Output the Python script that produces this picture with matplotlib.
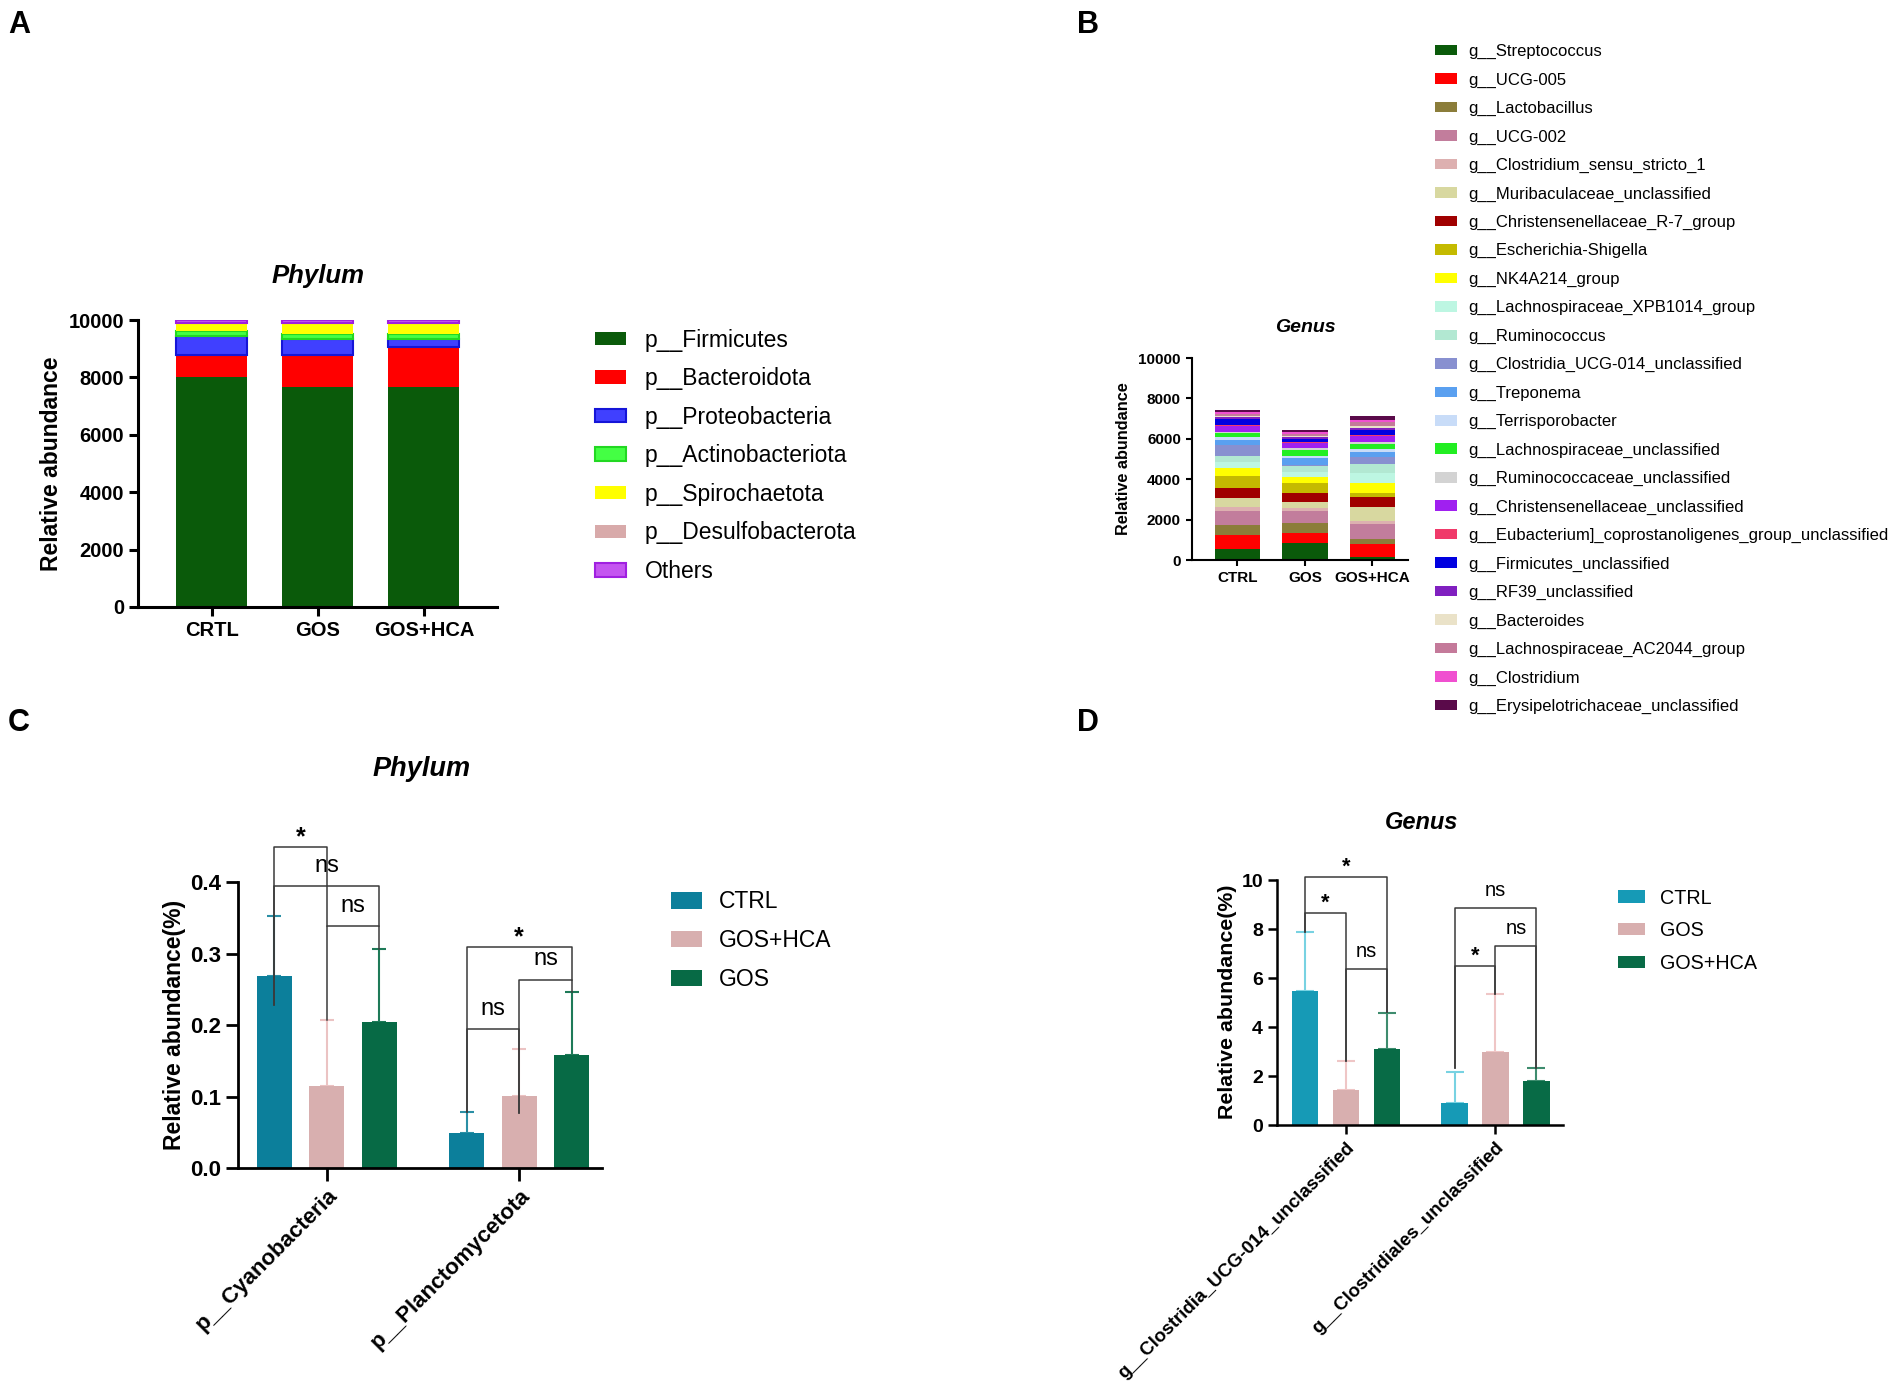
import numpy as np
import matplotlib
matplotlib.use('Agg')
import matplotlib.pyplot as plt

plt.rcParams['font.family'] = ['Liberation Sans', 'DejaVu Sans']

# ── Data: panel A (phylum, stacked) ──────────────────────────────────────────
groups_a = ['CRTL', 'GOS', 'GOS+HCA']
phyla = ['p__Firmicutes', 'p__Bacteroidota', 'p__Proteobacteria', 'p__Actinobacteriota',
         'p__Spirochaetota', 'p__Desulfobacterota', 'Others']
phylum_crtl = [8020, 750, 670, 175, 245, 30, 110]
phylum_gos = [7670, 1120, 535, 185, 350, 30, 110]
phylum_hca = [7670, 1375, 280, 185, 350, 30, 110]
phylum_colors = ['#0A5A0A', '#FF0000', '#4040FF', '#44FF44', '#FFFF00', '#D8AAAA', '#C455F0']
phylum_edges = ['none', 'none', '#1515D8', '#22D822', 'none', 'none', '#A020E0']

# ── Data: panel B (genus, stacked) ───────────────────────────────────────────
groups_b = ['CTRL', 'GOS', 'GOS+HCA']
genera = ['g__Streptococcus', 'g__UCG-005', 'g__Lactobacillus', 'g__UCG-002',
          'g__Clostridium_sensu_stricto_1', 'g__Muribaculaceae_unclassified',
          'g__Christensenellaceae_R-7_group', 'g__Escherichia-Shigella', 'g__NK4A214_group',
          'g__Lachnospiraceae_XPB1014_group', 'g__Ruminococcus', 'g__Clostridia_UCG-014_unclassified',
          'g__Treponema', 'g__Terrisporobacter', 'g__Lachnospiraceae_unclassified',
          'g__Ruminococcaceae_unclassified', 'g__Christensenellaceae_unclassified',
          'g__Eubacterium]_coprostanoligenes_group_unclassified', 'g__Firmicutes_unclassified',
          'g__RF39_unclassified', 'g__Bacteroides', 'g__Lachnospiraceae_AC2044_group',
          'g__Clostridium', 'g__Erysipelotrichaceae_unclassified']
genus_ctrl = [530, 710, 495, 710, 200, 400, 510, 610, 400, 310, 250, 545,
              280, 115, 200, 80, 265, 80, 280, 100, 65, 100, 80, 115]
genus_gos = [825, 530, 460, 595, 150, 315, 430, 495, 300, 280, 280, 65,
             310, 130, 280, 80, 250, 65, 130, 100, 50, 100, 115, 80]
genus_hca = [130, 660, 265, 725, 165, 660, 495, 230, 460, 495, 460, 330,
             280, 130, 265, 100, 280, 80, 250, 80, 80, 200, 130, 180]
genus_colors = ['#0A5A0A', '#FF0000', '#8B7D3A', '#C27D9C', '#DDB0B0', '#D8D8A0',
                '#A00000', '#C4BA00', '#FFFF00', '#BDF6E2', '#B2E8D2', '#8890D0',
                '#5AA0F0', '#C8DCF8', '#22EE22', '#D3D3D3', '#A020F0', '#F03A6A',
                '#0000E0', '#8020C0', '#EAE2C8', '#C47A9A', '#F050D0', '#5A0A4A']

# ── Data: panel C (phylum, mean + SD) ────────────────────────────────────────
taxa_c = ['p__Cyanobacteria', 'p__Planctomycetota']
series_c = ['CTRL', 'GOS+HCA', 'GOS']
c_ctrl = [0.268, 0.049]
c_ctrl_sd = [0.085, 0.029]
c_hca = [0.115, 0.101]
c_hca_sd = [0.092, 0.065]
c_gos = [0.205, 0.158]
c_gos_sd = [0.102, 0.088]
colors_c = ['#0C7F9B', '#D8AFAF', '#076A45']
ecolors_c = ['#2A8FA5', '#EBC3C3', '#1E7A58']
# (group, bar i, bar j, line y, label, leg bottom i, leg bottom j)
brackets_c = [(0, 0, 1, 0.449, '*', 0.228, 0.338),
              (0, 0, 2, 0.394, 'ns', 0.228, 0.338),
              (0, 1, 2, 0.338, 'ns', 0.207, 0.307),
              (1, 0, 2, 0.309, '*', 0.078, 0.263),
              (1, 1, 2, 0.263, 'ns', 0.077, 0.246),
              (1, 0, 1, 0.194, 'ns', 0.078, 0.077)]

# ── Data: panel D (genus, mean + SD) ─────────────────────────────────────────
taxa_d = ['g__Clostridia_UCG-014_unclassified', 'g__Clostridiales_unclassified']
series_d = ['CTRL', 'GOS', 'GOS+HCA']
d_ctrl = [5.47, 0.88]
d_ctrl_sd = [2.42, 1.27]
d_gos = [1.43, 2.98]
d_gos_sd = [1.20, 2.39]
d_hca = [3.12, 1.81]
d_hca_sd = [1.47, 0.54]
colors_d = ['#169AB6', '#D8AFAF', '#086B46']
ecolors_d = ['#78D2E2', '#EFC6C6', '#3E8C6E']
brackets_d = [(0, 0, 2, 10.14, '*', 7.9, 4.6),
              (0, 0, 1, 8.67, '*', 7.9, 2.6),
              (0, 1, 2, 6.39, 'ns', 2.6, 4.6),
              (1, 0, 2, 8.87, 'ns', 2.35, 2.35),
              (1, 0, 1, 6.49, '*', 2.35, 5.37),
              (1, 1, 2, 7.31, 'ns', 5.37, 2.35)]

# ── Figure / helpers ─────────────────────────────────────────────────────────
W, H = 1902, 1391
fig = plt.figure(figsize=(W / 100, H / 100), dpi=100)


def add_ax(x0, y0, x1, y1):
    return fig.add_axes([x0 / W, 1 - y1 / H, (x1 - x0) / W, (y1 - y0) / H])


def prism(ax, lw, ticklen, size, xsize=None):
    for s in ['top', 'right']:
        ax.spines[s].set_visible(False)
    for s in ['left', 'bottom']:
        ax.spines[s].set_linewidth(lw)
    ax.tick_params(width=lw, length=ticklen, labelsize=size)
    ax.tick_params(axis='x', labelsize=xsize or size)
    for lab in ax.get_xticklabels() + ax.get_yticklabels():
        lab.set_fontweight('bold')


def px_text(x, y, s, **kw):
    fig.text(x / W, 1 - y / H, s, **kw)


def bracket(ax, xa, xb, y, ya, yb, label, size, dy_star, dy_ns):
    ax.plot([xa, xa, xb, xb], [ya, y, y, yb], color='#3A3A3A', lw=1.1,
            zorder=4, clip_on=False)
    star = label == '*'
    ax.annotate(label, xy=((xa + xb) / 2, y), xytext=(0, dy_star if star else dy_ns),
                textcoords='offset points', ha='center', va='center',
                fontsize=size + 1 if star else size,
                fontweight='bold' if star else 'normal', annotation_clip=False)


# ── Panel A ──────────────────────────────────────────────────────────────────
ax_a = add_ax(138, 320, 497, 607)
vals_a = np.array([phylum_crtl, phylum_gos, phylum_hca], dtype=float)
xa = np.arange(len(groups_a))
bottom = np.zeros(len(groups_a))
bars_a = []
for i, name in enumerate(phyla):
    b = ax_a.bar(xa, vals_a[:, i], bottom=bottom, width=0.67, color=phylum_colors[i],
                 edgecolor=phylum_edges[i], linewidth=1.5 if phylum_edges[i] != 'none' else 0,
                 label=name)
    bars_a.append(b)
    bottom += vals_a[:, i]
ax_a.set_xlim(-0.698, 2.689)
ax_a.set_ylim(0, 10000)
ax_a.set_yticks(range(0, 10001, 2000))
ax_a.set_xticks(xa)
ax_a.set_xticklabels(groups_a)
prism(ax_a, 2.2, 6.5, 14.5)
ax_a.set_ylabel('Relative abundance', fontsize=16.5, fontweight='bold')
ax_a.yaxis.set_label_coords((63 - 138) / (497 - 138), 0.5)
px_text(318, 283, 'Phylum', ha='center', va='baseline', fontsize=18.5,
        fontweight='bold', fontstyle='italic')
fig.legend(handles=bars_a, labels=phyla, loc='upper left',
           bbox_to_anchor=(595 / W, 1 - 328.5 / H), frameon=False, fontsize=16.5,
           handlelength=1.35, handleheight=0.52, labelspacing=0.68,
           handletextpad=0.83, borderpad=0, borderaxespad=0)

# ── Panel B ──────────────────────────────────────────────────────────────────
ax_b = add_ax(1192, 358, 1408, 560)
vals_b = np.array([genus_ctrl, genus_gos, genus_hca], dtype=float)
xb = np.arange(len(groups_b))
bottom = np.zeros(len(groups_b))
bars_b = []
for i, name in enumerate(genera):
    b = ax_b.bar(xb, vals_b[:, i], bottom=bottom, width=0.667, color=genus_colors[i],
                 linewidth=0, label=name)
    bars_b.append(b)
    bottom += vals_b[:, i]
ax_b.set_xlim(-0.674, 2.526)
ax_b.set_ylim(0, 10000)
ax_b.set_yticks(range(0, 10001, 2000))
ax_b.set_xticks(xb)
ax_b.set_xticklabels(groups_b)
prism(ax_b, 1.5, 4.5, 11)
ax_b.set_ylabel('Relative abundance', fontsize=11.7, fontweight='bold')
ax_b.yaxis.set_label_coords((1131 - 1192) / (1408 - 1192), 0.5)
px_text(1305, 332, 'Genus', ha='center', va='baseline', fontsize=14,
        fontweight='bold', fontstyle='italic')
fig.legend(handles=bars_b, labels=genera, loc='upper left',
           bbox_to_anchor=(1435 / W, 1 - 44 / H), frameon=False, fontsize=12,
           handlelength=1.32, handleheight=0.6, labelspacing=0.80,
           handletextpad=0.7, borderpad=0, borderaxespad=0)


# ── Grouped bar panels (C, D) ────────────────────────────────────────────────
def grouped(ax, means, sds, colors, ecolors, labels, off, width, capsize):
    xg = np.arange(len(means[0]))
    handles = []
    for k in range(len(means)):
        xk = xg + (k - 1) * off
        ax.errorbar(xk, means[k], yerr=[np.zeros(len(xg)), sds[k]], fmt='none',
                    ecolor=ecolors[k], elinewidth=1.5, capsize=capsize,
                    capthick=1.5, zorder=1)
        h = ax.bar(xk, means[k], width=width, color=colors[k], linewidth=0,
                   zorder=2, label=labels[k])
        handles.append(h)
    return xg, handles


# Panel C
ax_c = add_ax(238, 825, 602, 1168)
xc, hc = grouped(ax_c, [c_ctrl, c_hca, c_gos], [c_ctrl_sd, c_hca_sd, c_gos_sd],
                 colors_c, ecolors_c, series_c, 0.273, 0.182, 4.7)
ax_c.set_xlim(-0.461, 1.43)
ax_c.set_ylim(0, 0.48)
ax_c.set_yticks([0.0, 0.1, 0.2, 0.3, 0.4])
ax_c.set_yticklabels(['0.0', '0.1', '0.2', '0.3', '0.4'])
ax_c.spines['left'].set_bounds(0, 0.4)
ax_c.set_xticks(xc)
ax_c.set_xticklabels(taxa_c, rotation=45, ha='right', rotation_mode='anchor')
prism(ax_c, 2.0, 9, 16)
ax_c.set_ylabel('Relative abundance(%)', fontsize=16.5, fontweight='bold')
ax_c.yaxis.set_label_coords((186 - 238) / (602 - 238), (1168 - 1025) / (1168 - 825))
for g, i, j, y, lab, yi, yj in brackets_c:
    bracket(ax_c, g + (i - 1) * 0.273, g + (j - 1) * 0.273, y, yi, yj, lab, 17, 7, 15)
px_text(422, 776, 'Phylum', ha='center', va='baseline', fontsize=19.5,
        fontweight='bold', fontstyle='italic')
fig.legend(handles=hc, labels=series_c, loc='upper left',
           bbox_to_anchor=(671 / W, 1 - 890.5 / H), frameon=False, fontsize=16.5,
           handlelength=1.35, handleheight=0.7, labelspacing=0.69,
           handletextpad=0.74, borderpad=0, borderaxespad=0)

# Panel D
ax_d = add_ax(1277, 851, 1563, 1125)
xd, hd = grouped(ax_d, [d_ctrl, d_gos, d_hca], [d_ctrl_sd, d_gos_sd, d_hca_sd],
                 colors_d, ecolors_d, series_d, 0.274, 0.177, 6.5)
ax_d.set_xlim(-0.462, 1.452)
ax_d.set_ylim(0, 11.2)
ax_d.set_yticks([0, 2, 4, 6, 8, 10])
ax_d.spines['left'].set_bounds(0, 10)
ax_d.set_xticks(xd)
ax_d.set_xticklabels(taxa_d, rotation=45, ha='right', rotation_mode='anchor')
prism(ax_d, 1.8, 6.5, 14, 13.5)
ax_d.set_ylabel('Relative abundance(%)', fontsize=15.4, fontweight='bold')
ax_d.yaxis.set_label_coords((1237 - 1277) / (1563 - 1277), (1125 - 1002) / (1125 - 851))
for g, i, j, y, lab, yi, yj in brackets_d:
    bracket(ax_d, g + (i - 1) * 0.274, g + (j - 1) * 0.274, y, yi, yj, lab, 14.5, 7, 12.7)
px_text(1422, 829, 'Genus', ha='center', va='baseline', fontsize=17,
        fontweight='bold', fontstyle='italic')
fig.legend(handles=hd, labels=series_d, loc='upper left',
           bbox_to_anchor=(1618 / W, 1 - 888.5 / H), frameon=False, fontsize=14.2,
           handlelength=1.37, handleheight=0.6, labelspacing=0.69,
           handletextpad=0.76, borderpad=0, borderaxespad=0)

# ── Panel letters ────────────────────────────────────────────────────────────
for lx, ly, letter in [(8, 33, 'A'), (1077, 33, 'B'), (8, 731, 'C'), (1077, 731, 'D')]:
    px_text(lx, ly, letter, ha='left', va='baseline', fontsize=22, fontweight='bold')

fig.savefig('out.png', dpi=100, facecolor='white')
